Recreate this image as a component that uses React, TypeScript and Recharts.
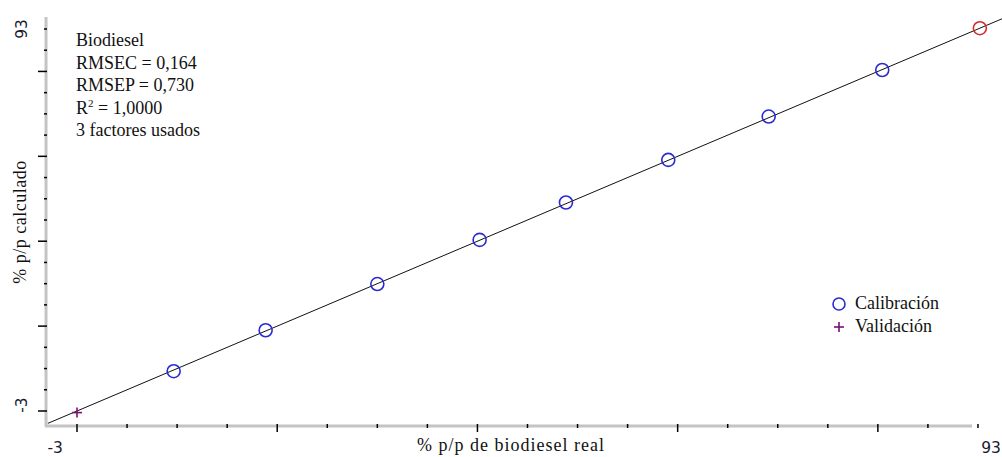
import React from 'react';
import {
  ScatterChart,
  Scatter,
  XAxis,
  YAxis,
  ReferenceLine,
} from 'recharts';

// calibration samples: real vs calculated % p/p
const calibracion = [
  { x: 7.3, y: 7.0 },
  { x: 17.1, y: 17.3 },
  { x: 29.0, y: 28.9 },
  { x: 39.9, y: 40.0 },
  { x: 49.1, y: 49.4 },
  { x: 60.0, y: 60.1 },
  { x: 70.7, y: 71.0 },
  { x: 82.8, y: 82.7 },
];

// highlighted sample (red circle)
const destacado = [{ x: 93.2, y: 93.2 }];

const validacion = [{ x: -3, y: -3.4 }];

const textoInfo = ['Biodiesel', 'RMSEC = 0,164', 'RMSEP = 0,730', 'R2 = 1,0000', '3 factores usados'];

const tickMin = -3;
const tickMax = 93;
const tickLabels = [-3, 93];
// 18 tick intervals between -3 and 93, long tick every 4th
const ticks = Array.from({ length: 19 }, (_, i) => tickMin + (i * (tickMax - tickMin)) / 18);

const xDomain = [-6.41, 95.56];
const yDomain = [-6.77, 99.03];

const serif = '"Liberation Serif", "Times New Roman", serif';
const sans = '"DejaVu Sans", Tahoma, sans-serif';
const labelColor = '#1a1a30';
const textColor = '#111';

function XTick(props: any) {
  const { x, y, payload, index } = props;
  const major = index % 4 === 0;
  const v = payload.value;
  const showLabel = tickLabels.some((t) => Math.abs(t - v) < 0.01);
  return (
    <g>
      <line x1={x} x2={x} y1={y - 2} y2={major ? y + 6 : y + 2} stroke="#000" strokeWidth={1.5} />
      {showLabel && (
        <text
          x={v < 0 ? x - 14 : x + 23}
          y={y + 27}
          textAnchor="end"
          fontFamily={sans}
          fontSize={15.5}
          fill={labelColor}
        >
          {v}
        </text>
      )}
    </g>
  );
}

function YTick(props: any) {
  const { x, y, payload, index } = props;
  const major = index % 4 === 0;
  const v = payload.value;
  const showLabel = tickLabels.some((t) => Math.abs(t - v) < 0.01);
  const lx = v < 0 ? x - 23 : x - 23;
  const ly = v < 0 ? y - 6 : y;
  return (
    <g>
      <line x1={major ? x - 7 : x - 1} x2={x + 2} y1={y} y2={y} stroke="#000" strokeWidth={1.5} />
      {showLabel && (
        <text
          x={lx}
          y={ly}
          textAnchor="middle"
          dominantBaseline="central"
          transform={`rotate(-90 ${lx} ${ly})`}
          fontFamily={sans}
          fontSize={15.5}
          fill={labelColor}
        >
          {v}
        </text>
      )}
    </g>
  );
}

const circleShape = (color: string) => (props: any) => (
  <circle cx={props.cx} cy={props.cy} r={6.5} fill="none" stroke={color} strokeWidth={1.6} />
);

const plusShape = (props: any) => (
  <g stroke="#7a1070" strokeWidth={1.6}>
    <line x1={props.cx - 5} x2={props.cx + 5} y1={props.cy} y2={props.cy} />
    <line x1={props.cx} x2={props.cx} y1={props.cy - 5} y2={props.cy + 5} />
  </g>
);

export default function App() {
  return (
    <div style={{ position: 'absolute', left: 0, top: 0, width: 1002, height: 457, background: '#fff' }}>
      <ScatterChart width={1002} height={457} margin={{ top: 5, right: 0, bottom: 0, left: 0 }}>
        {/* grey axis lines, as in the original software */}
        <ReferenceLine
          segment={[{ x: -6.41, y: -6.77 }, { x: 92.37, y: -6.77 }]}
          stroke="#c4c4c4"
          strokeWidth={3}
          ifOverflow="visible"
        />
        <ReferenceLine
          segment={[{ x: -6.3, y: -6.9 }, { x: -6.3, y: 96.0 }]}
          stroke="#c4c4c4"
          strokeWidth={3}
          ifOverflow="visible"
        />
        <XAxis
          type="number"
          dataKey="x"
          domain={xDomain}
          ticks={ticks}
          interval={0}
          tickSize={0}
          tickMargin={0}
          axisLine={false}
          tickLine={false}
          tick={<XTick />}
          height={31}
          allowDataOverflow
        />
        <YAxis
          type="number"
          dataKey="y"
          domain={yDomain}
          ticks={ticks}
          interval={0}
          tickSize={0}
          tickMargin={0}
          axisLine={false}
          tickLine={false}
          tick={<YTick />}
          width={45}
          allowDataOverflow
        />
        <ReferenceLine
          segment={[{ x: -6.1, y: -6.1 }, { x: 95.56, y: 95.56 }]}
          stroke="#111"
          strokeWidth={1}
          ifOverflow="visible"
        />
        <Scatter name="Calibración" data={calibracion} shape={circleShape('#2a2ad4')} isAnimationActive={false} />
        <Scatter name="destacado" data={destacado} shape={circleShape('#d42a2a')} isAnimationActive={false} />
        <Scatter name="Validación" data={validacion} shape={plusShape} isAnimationActive={false} />
      </ScatterChart>

      {/* info block */}
      <div
        style={{
          position: 'absolute',
          left: 76,
          top: 29,
          fontFamily: serif,
          fontSize: 18,
          lineHeight: '22.5px',
          color: textColor,
        }}
      >
        {textoInfo.map((t) =>
          t.startsWith('R2') ? (
            <div key={t}>
              R<sup style={{ fontSize: 11, verticalAlign: 7, lineHeight: 0 }}>2</sup>
              {t.slice(2)}
            </div>
          ) : (
            <div key={t}>{t}</div>
          )
        )}
      </div>

      {/* legend */}
      <div style={{ position: 'absolute', left: 831, top: 292, fontFamily: serif, fontSize: 18, color: textColor }}>
        <div style={{ display: 'flex', alignItems: 'center', height: 23 }}>
          <svg width={22} height={16}>
            <circle cx={8} cy={8} r={6} fill="none" stroke="#2a2ad4" strokeWidth={1.6} />
          </svg>
          <span style={{ marginLeft: 2 }}>Calibración</span>
        </div>
        <div style={{ display: 'flex', alignItems: 'center', height: 23 }}>
          <svg width={22} height={16}>
            <g stroke="#7a1070" strokeWidth={1.6}>
              <line x1={3} x2={13} y1={8} y2={8} />
              <line x1={8} x2={8} y1={3} y2={13} />
            </g>
          </svg>
          <span style={{ marginLeft: 2 }}>Validación</span>
        </div>
      </div>

      {/* axis titles */}
      <div
        style={{
          position: 'absolute',
          left: 511,
          top: 445,
          transform: 'translate(-50%, -50%)',
          fontFamily: serif,
          fontSize: 18,
          letterSpacing: 1,
          whiteSpace: 'nowrap',
          color: textColor,
        }}
      >
        % p/p de biodiesel real
      </div>
      <div
        style={{
          position: 'absolute',
          left: 20,
          top: 222,
          transform: 'translate(-50%, -50%) rotate(-90deg)',
          fontFamily: serif,
          fontSize: 18,
          letterSpacing: 0.5,
          whiteSpace: 'nowrap',
          color: textColor,
        }}
      >
        % p/p calculado
      </div>
    </div>
  );
}
